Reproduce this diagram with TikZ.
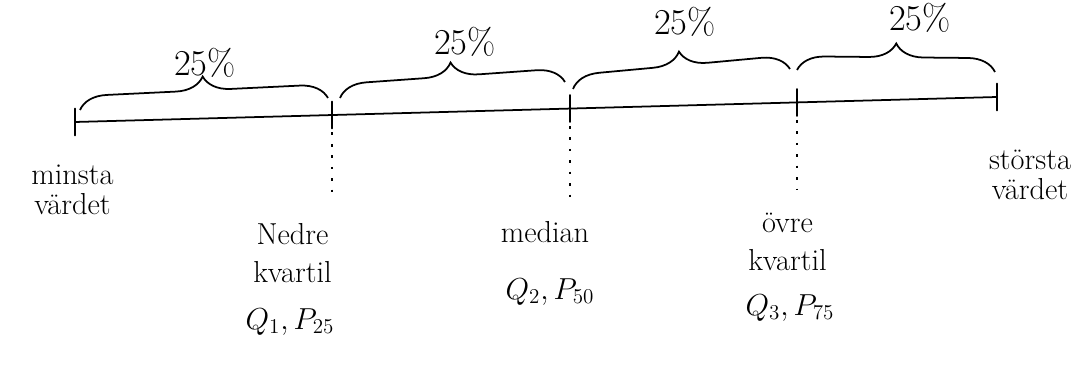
\documentclass[tikz,border=0pt]{standalone}
\usepackage{amsmath}
\usepackage{tikz}
\usetikzlibrary{arrows.meta,decorations.pathreplacing,positioning,calc}

\tikzset{
    axisline/.style={line width=1pt, line cap=round},
    dotline/.style={line width=1pt, dash pattern=on 1.5pt off 5pt},
    quarter/.style={line width=1pt, decorate, decoration={brace, amplitude=0.55cm}},
    pct/.style={font=\huge},
    lab/.style={font=\LARGE, align=center}
}

\begin{document}
\begin{tikzpicture}[scale=1]

                % Fixed frame
                \useasboundingbox (0,0) rectangle (21.84,7.48);

                % Points on the axis
                \coordinate (minv) at (1.5,5.04);
                \coordinate (q1) at (6.64,5.18);
                \coordinate (med) at (11.4,5.31);
                \coordinate (q3) at (15.94,5.43);
                \coordinate (maxv) at (19.94,5.54);

                % Axis and ticks
                \draw[axisline] (minv) -- (maxv);
                \foreach \p in {minv,q1,med,q3,maxv} {
                    \draw[axisline] ($(\p)+(0,0.27)$) -- ($(\p)+(0,-0.27)$);
                }

                % Braces over the four quarters
                \draw[quarter] (1.6,5.28) -- (6.56,5.52);
                \draw[quarter] (6.8,5.52) -- (11.3,5.84);
                \draw[quarter] (11.46,5.7) -- (15.8,6.1);
                \draw[quarter] (15.94,6.08) -- (19.9,6.04);

                % Percent labels
                \node[pct] (p1) at (4.1,6.22) {25\%};
                \node[pct] (p2) at (9.3,6.64) {25\%};
                \node[pct] (p3) at (13.7,7.04) {25\%};
                \node[pct] (p4) at (18.4,7.12) {25\%};

                % Labels below the axis
                \node[lab] (minlab) at (1.45,3.68) {minsta\\[-5pt]värdet};
                \node[lab] (maxlab) at (20.6,3.98) {största\\[-5pt]värdet};
                \node[lab] (q1lab) at (5.85,2.42) {Nedre\\kvartil};
                \node[lab] (q1sym) at (5.8,1.04) {$Q_1, P_{25}$};
                \node[lab] (medlab) at (10.9,2.84) {median};
                \node[lab] (medsym) at (11.0,1.64) {$Q_2, P_{50}$};
                \node[lab] (q3lab) at (15.75,2.64) {övre\\kvartil};
                \node[lab] (q3sym) at (15.8,1.32) {$Q_3, P_{75}$};

                % Dotted guides
                \draw[dotline, shorten <=0.35cm, shorten >=0.35cm] (q1) -- (q1 |- q1lab.north);
                \draw[dotline, shorten <=0.35cm, shorten >=0.2cm] (med) -- (med |- medlab.north);
                \draw[dotline, shorten <=0.35cm, shorten >=0.35cm] (q3) -- (q3 |- q3lab.north);
            \end{tikzpicture}
\end{document}
